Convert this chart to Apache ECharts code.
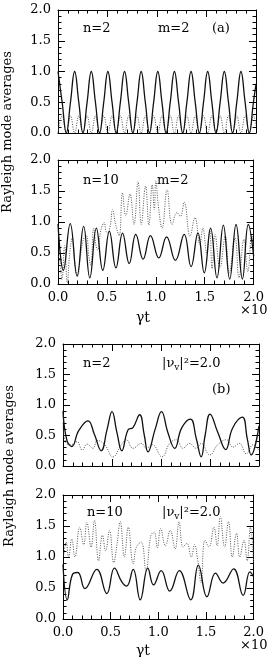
<!DOCTYPE html>
<html>
<head>
<meta charset="utf-8">
<script src="https://cdn.jsdelivr.net/npm/echarts@6/dist/echarts.min.js"></script>
<style>
  html, body { margin: 0; padding: 0; background: #fff; }
  #chart { width: 267px; height: 657px; }
</style>
</head>
<body>
<div id="chart"></div>
<script>
// ---- data ----
// panel (a) top: n=2, m=2 (shared time samples)
const t1 = [0, 0.042, 0.084, 0.126, 0.168, 0.21, 0.252, 0.294, 0.336, 0.378, 0.42, 0.462, 0.504, 0.546, 0.588, 0.63,
  0.672, 0.714, 0.756, 0.798, 0.84, 0.882, 0.924, 0.966, 1.008, 1.05, 1.092, 1.134, 1.176, 1.218, 1.26, 1.302,
  1.344, 1.386, 1.428, 1.47, 1.512, 1.554, 1.596, 1.638, 1.68, 1.722, 1.764, 1.806, 1.848, 1.89, 1.932, 1.974, 2.0];
const a1Solid = [1, 0.5, 0, 0.5, 1, 0.5, 0, 0.5, 1, 0.5, 0, 0.5, 1, 0.5, 0, 0.5, 1, 0.5, 0, 0.5, 1, 0.5, 0, 0.5,
  1, 0.5, 0, 0.5, 1, 0.5, 0, 0.5, 1, 0.5, 0, 0.5, 1, 0.5, 0, 0.5, 1, 0.5, 0, 0.5, 1, 0.5, 0, 0.5, 0.8];
const a1Dotted = [0, 0.28, 0, 0.28, 0, 0.28, 0, 0.28, 0, 0.28, 0, 0.28, 0, 0.28, 0, 0.28, 0, 0.28, 0, 0.28, 0, 0.28, 0, 0.28,
  0, 0.28, 0, 0.28, 0, 0.28, 0, 0.28, 0, 0.28, 0, 0.28, 0, 0.28, 0, 0.28, 0, 0.28, 0, 0.28, 0, 0.28, 0, 0.28, 0.12];

// panel (a) bottom: n=10, m=2
const a2Solid = [[0, 0.97], [0.055, 0.22], [0.125, 0.975], [0.195, 0.13], [0.262, 0.93], [0.325, 0.1], [0.392, 0.9],
  [0.458, 0.22], [0.525, 0.85], [0.592, 0.26], [0.66, 0.82], [0.728, 0.33], [0.795, 0.8], [0.87, 0.4], [0.945, 0.78],
  [1.03, 0.42], [1.11, 0.76], [1.2, 0.38], [1.29, 0.8], [1.36, 0.28], [1.43, 0.82], [1.495, 0.18], [1.56, 0.9],
  [1.625, 0.1], [1.69, 0.95], [1.755, 0.08], [1.82, 0.96], [1.885, 0.08], [1.945, 0.96], [2.0, 0.45]];
const a2Dotted = [[0, 0.45], [0.017, 0.4], [0.04, 0.07], [0.068, 0.62], [0.095, 0.02], [0.12, 0.5], [0.145, 0.74],
  [0.175, 0.3], [0.2, 0.12], [0.23, 0.45], [0.26, 0.72], [0.29, 0.78], [0.315, 0.45], [0.335, 0.3], [0.365, 0.9],
  [0.39, 0.6], [0.405, 0.55], [0.44, 0.88], [0.473, 0.99], [0.49, 0.85], [0.507, 0.82], [0.535, 0.95], [0.557, 1.2],
  [0.59, 0.95], [0.625, 0.78], [0.659, 1.47], [0.693, 1.1], [0.736, 1.45], [0.777, 0.96], [0.818, 1.65],
  [0.851, 0.96], [0.895, 1.58], [0.929, 0.95], [0.963, 1.6], [0.985, 1.2], [1.0, 1.66], [1.03, 1.2], [1.064, 0.9],
  [1.115, 1.52], [1.166, 0.96], [1.216, 1.15], [1.25, 1.09], [1.29, 1.32], [1.35, 0.77], [1.4, 1.07], [1.45, 0.64],
  [1.48, 0.9], [1.52, 0.5], [1.55, 0.88], [1.575, 0.25], [1.605, 0.8], [1.655, 0.26], [1.71, 0.77], [1.75, 0.18],
  [1.81, 0.74], [1.85, 0.1], [1.9, 0.72], [1.94, 0.2], [1.98, 0.8], [2.0, 0.5]];

// panel (b) top: n=2, |nu_v|^2=2.0
const b1Solid = [[0, 0.9], [0.04, 0.42], [0.09, 0.32], [0.16, 0.58], [0.255, 0.74], [0.32, 0.52], [0.39, 0.25],
  [0.45, 0.6], [0.5, 0.89], [0.55, 0.55], [0.6, 0.25], [0.663, 0.59], [0.714, 0.63], [0.782, 0.84], [0.83, 0.5],
  [0.867, 0.23], [0.94, 0.6], [1.005, 0.89], [1.07, 0.55], [1.14, 0.29], [1.21, 0.62], [1.3, 0.77], [1.36, 0.45],
  [1.41, 0.15], [1.45, 0.5], [1.5, 0.85], [1.58, 0.55], [1.66, 0.27], [1.73, 0.62], [1.83, 0.8], [1.88, 0.45],
  [1.92, 0.18], [2.0, 0.66]];
const b1Dotted = [[0, 0.7], [0.03, 0.38], [0.085, 0.35], [0.143, 0.4], [0.197, 0.26], [0.245, 0.36], [0.306, 0.29],
  [0.35, 0.42], [0.425, 0.35], [0.51, 0.15], [0.595, 0.35], [0.646, 0.43], [0.714, 0.29], [0.8, 0.37], [0.85, 0.29],
  [0.91, 0.35], [1.01, 0.15], [1.088, 0.37], [1.156, 0.43], [1.224, 0.29], [1.29, 0.37], [1.36, 0.29], [1.41, 0.37],
  [1.497, 0.18], [1.58, 0.35], [1.667, 0.43], [1.735, 0.31], [1.8, 0.37], [1.87, 0.2], [1.94, 0.35], [2.0, 0.25]];

// panel (b) bottom: n=10, |nu_v|^2=2.0
const b2Solid = [[0, 0.88], [0.045, 0.31], [0.1, 0.72], [0.155, 0.75], [0.23, 0.49], [0.355, 0.8], [0.46, 0.41],
  [0.54, 0.82], [0.617, 0.6], [0.668, 0.53], [0.736, 0.8], [0.81, 0.31], [0.89, 0.82], [0.95, 0.55], [1.03, 0.78],
  [1.12, 0.45], [1.22, 0.78], [1.34, 0.31], [1.42, 0.87], [1.51, 0.36], [1.6, 0.74], [1.68, 0.58], [1.79, 0.81],
  [1.89, 0.38], [1.96, 0.76], [2.0, 0.68]];
const b2Dotted = [[0.007, 1.02], [0.034, 1.24], [0.058, 1.0], [0.092, 1.29], [0.125, 1.0], [0.176, 1.48], [0.217, 1.2],
  [0.25, 1.56], [0.295, 1.16], [0.33, 1.59], [0.373, 0.94], [0.414, 1.35], [0.447, 1.1], [0.488, 1.43], [0.532, 0.91],
  [0.566, 1.2], [0.6, 1.57], [0.644, 1.0], [0.685, 1.48], [0.736, 0.89], [0.77, 1.16], [0.82, 1.24], [0.871, 0.78],
  [0.922, 1.35], [0.956, 1.4], [0.99, 1.15], [1.024, 1.46], [1.075, 1.18], [1.125, 1.43], [1.176, 1.13],
  [1.217, 1.57], [1.26, 1.16], [1.3, 1.22], [1.346, 1.0], [1.38, 1.2], [1.414, 0.94], [1.447, 0.59], [1.49, 1.27],
  [1.532, 1.16], [1.583, 1.48], [1.617, 1.18], [1.65, 1.65], [1.695, 1.16], [1.736, 1.57], [1.776, 1.0],
  [1.82, 1.38], [1.854, 1.0], [1.898, 1.27], [1.932, 0.94], [1.966, 1.48], [2.0, 0.9]];

const tickMin = 0, tickMax = 2, tickStep = 0.5;

// ---- chart ----
const FONT = 'DejaVu Serif';
const chart = echarts.init(document.getElementById('chart'));

const grids = [
    {left: 58, top: 10, width: 198, height: 123},
    {left: 58, top: 160, width: 198, height: 124},
    {left: 63, top: 344, width: 196, height: 122},
    {left: 63, top: 495, width: 196, height: 124},
];

function axis(gridIndex, position, showLabel) {
    return {
        type: 'value',
        gridIndex: gridIndex,
        position: position,
        min: tickMin,
        max: tickMax,
        interval: tickStep,
        axisLine: {show: true, onZero: false, lineStyle: {color: '#000', width: 1}},
        axisTick: {show: true, inside: true, length: 7, lineStyle: {color: '#000', width: 1}},
        minorTick: {show: true, splitNumber: 5, length: 3.5, lineStyle: {color: '#000', width: 1}},
        splitLine: {show: false},
        axisLabel: {
            show: showLabel,
            showMinLabel: true,
            showMaxLabel: true,
            margin: 7,
            fontFamily: FONT,
            fontSize: 13,
            color: '#000',
            formatter: v => v.toFixed(1),
        },
    };
}

const xAxes = [], yAxes = [];
for (let g = 0; g < 4; g++) {
    xAxes.push(axis(g, 'bottom', g === 1 || g === 3));
    yAxes.push(axis(g, 'left', true));
}
for (let g = 0; g < 4; g++) {
    xAxes.push(axis(g, 'top', false));
    yAxes.push(axis(g, 'right', false));
}

function solid(g, data) {
    return {
        type: 'line', xAxisIndex: g, yAxisIndex: g, data: data, symbol: 'none', smooth: 0.45,
        lineStyle: {color: '#111', width: 1.3}, z: 3,
    };
}
function dotted(g, data) {
    return {
        type: 'line', xAxisIndex: g, yAxisIndex: g, data: data, symbol: 'none', smooth: 0.45,
        lineStyle: {color: '#555', width: 1, type: [1, 1.4]}, z: 2,
    };
}

const zip = (xs, ys) => xs.map((x, i) => [x, ys[i]]);

const label = (x, y, text, extra) => ({
    type: 'text',
    style: Object.assign({x: x, y: y, text: text, font: '13px "DejaVu Serif"', fill: '#000', textVerticalAlign: 'middle'}, extra || {}),
});

const nuRich = {
    n: {fontFamily: FONT, fontSize: 13, color: '#000', lineHeight: 16},
    s: {fontFamily: FONT, fontSize: 9, color: '#000', lineHeight: 16, verticalAlign: 'bottom', padding: [6, 0, 0, 0]},
};

const option = {
    backgroundColor: '#fff',
    animation: false,
    grid: grids,
    xAxis: xAxes,
    yAxis: yAxes,
    series: [
        solid(0, zip(t1, a1Solid)),
        dotted(0, zip(t1, a1Dotted)),
        solid(1, a2Solid),
        dotted(1, a2Dotted),
        solid(2, b1Solid),
        dotted(2, b1Dotted),
        solid(3, b2Solid),
        dotted(3, b2Dotted),
    ],
    graphic: [
        label(83, 29, 'n=2'),
        label(158, 29, 'm=2'),
        label(212, 29, '(a)'),
        label(83, 181, 'n=10'),
        label(157, 181, 'm=2'),
        label(83, 364, 'n=2'),
        {type: 'text', style: {x: 162, y: 364, text: '{n||ν}{s|v}{n||²=2.0}', rich: nuRich, textVerticalAlign: 'middle'}},
        label(212, 390, '(b)'),
        label(87, 513, 'n=10'),
        {type: 'text', style: {x: 162, y: 513, text: '{n||ν}{s|v}{n||²=2.0}', rich: nuRich, textVerticalAlign: 'middle'}},
        label(240, 311, '×10'),
        label(240, 646, '×10'),
        label(143, 318, 'γt', {textAlign: 'center', font: '14px "DejaVu Serif"'}),
        label(143, 651, 'γt', {textAlign: 'center', font: '14px "DejaVu Serif"'}),
        {type: 'text', x: 8, y: 132, rotation: Math.PI / 2,
            style: {x: 0, y: 0, text: 'Rayleigh mode averages', font: '13px "DejaVu Serif"', fill: '#000', textAlign: 'center', textVerticalAlign: 'middle'}},
        {type: 'text', x: 10, y: 466, rotation: Math.PI / 2,
            style: {x: 0, y: 0, text: 'Rayleigh mode averages', font: '13px "DejaVu Serif"', fill: '#000', textAlign: 'center', textVerticalAlign: 'middle'}},
    ],
};

option && chart.setOption(option);
</script>
</body>
</html>
